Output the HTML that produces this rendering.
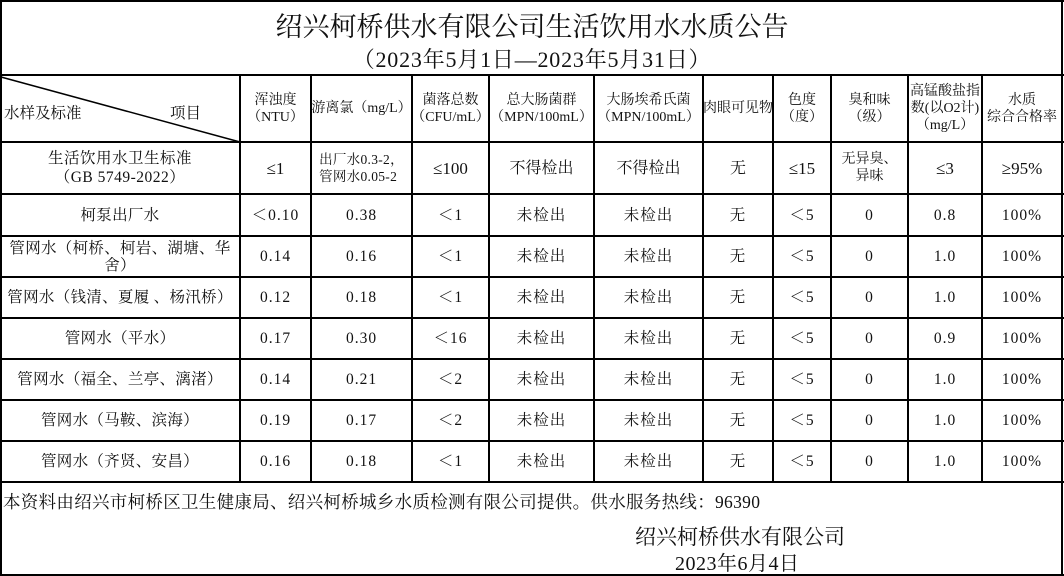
<!DOCTYPE html><html><head><meta charset="utf-8"><style>
body{margin:0;background:#fff;}
#w{position:relative;width:1064px;height:576px;overflow:hidden;font-family:"Liberation Serif","Noto Serif CJK SC",serif;color:#111;}
.h,.v{position:absolute;background:#000;}
.c{position:absolute;display:flex;align-items:center;justify-content:center;text-align:center;font-size:14px;line-height:17px;}
.t{position:absolute;white-space:nowrap;}
</style></head><body><div id="w">
<div class="t" style="left:0;width:1064px;top:5px;text-align:center;font-size:27px;">绍兴柯桥供水有限公司生活饮用水水质公告</div>
<div class="t" style="left:0;width:1064px;top:43px;text-align:center;font-size:22px;letter-spacing:0.8px;">（2023年5月1日—2023年5月31日）</div>
<div class="t" style="left:3px;top:489px;font-size:17.5px;letter-spacing:0.3px;">本资料由绍兴市柯桥区卫生健康局、绍兴柯桥城乡水质检测有限公司提供。供水服务热线：96390</div>
<div class="t" style="left:635px;top:521px;font-size:21px;">绍兴柯桥供水有限公司</div>
<div class="t" style="left:675px;top:547px;font-size:20px;letter-spacing:0.5px;">2023年6月4日</div>
<svg style="position:absolute;left:0;top:0" width="1064" height="576"><line x1="1" y1="77" x2="240" y2="142" stroke="#000" stroke-width="1.5"/></svg>
</div>
<script>
var X=[0,240,311,412,489,594,703,773,831,908,982,1062];
var Y=[75,142,194,236,277,318,359,400,441,482];
var w=document.getElementById('w');
function add(cls,st,html){var d=document.createElement('div');d.className=cls;d.style.cssText=st;if(html)d.innerHTML=html;w.appendChild(d);}
add('h','left:0;top:0;width:1064px;height:2px');
add('h','left:0;top:574px;width:1064px;height:2px');
add('v','left:0;top:0;width:2px;height:576px');
add('v','left:1061px;top:0;width:2px;height:576px');
Y.forEach(function(y){add('h','left:0;top:'+(y-1)+'px;width:1064px;height:2px');});
X.slice(1,11).forEach(function(x){add('v','left:'+(x-1)+'px;top:75px;width:2px;height:407px');});
var rows=[
['','浑浊度<br>（NTU）','游离氯（mg/L）','菌落总数<br>（CFU/mL）','总大肠菌群<br>（MPN/100mL）','大肠埃希氏菌<br>（MPN/100mL）','肉眼可见物','色度<br>（度）','臭和味<br>（级）','高锰酸盐指<br>数(以O2计)<br>（mg/L）','水质<br>综合合格率'],
['<span style="font-size:15.5px;line-height:19px;letter-spacing:0.5px">生活饮用水卫生标准<br>（GB 5749-2022）</span>','<span style="font-size:17px">≤1</span>','<span style="font-size:13.5px;text-align:left;display:block;letter-spacing:0.3px">出厂水0.3-2，<br>管网水0.05-2</span>','<span style="font-size:17px">≤100</span>','<span style="font-size:16px">不得检出</span>','<span style="font-size:16px">不得检出</span>','<span style="font-size:16px">无</span>','<span style="font-size:17px">≤15</span>','无异臭、<br>异味','<span style="font-size:17px">≤3</span>','<span style="font-size:17px">≥95%</span>'],
['柯泵出厂水','＜0.10','0.38','＜1','未检出','未检出','无','＜5','0','0.8','100%'],
['管网水（柯桥、柯岩、湖塘、华<br>舍）','0.14','0.16','＜1','未检出','未检出','无','＜5','0','1.0','100%'],
['管网水（钱清、夏履 、杨汛桥）','0.12','0.18','＜1','未检出','未检出','无','＜5','0','1.0','100%'],
['管网水（平水）','0.17','0.30','＜16','未检出','未检出','无','＜5','0','0.9','100%'],
['管网水（福全、兰亭、漓渚）','0.14','0.21','＜2','未检出','未检出','无','＜5','0','1.0','100%'],
['管网水（马鞍、滨海）','0.19','0.17','＜2','未检出','未检出','无','＜5','0','1.0','100%'],
['管网水（齐贤、安昌）','0.16','0.18','＜1','未检出','未检出','无','＜5','0','1.0','100%']];
rows.forEach(function(r,i){r.forEach(function(t,j){
 if(!t)return;
 var fs=(i>=2)?'font-size:15.5px;letter-spacing:'+(j>0?'1px':'0.3px')+';':'';
 add('c','left:'+X[j]+'px;top:'+Y[i]+'px;width:'+(X[j+1]-X[j])+'px;height:'+(Y[i+1]-Y[i])+'px;'+fs,t);
});});
add('t','left:4px;top:101px;font-size:15.5px','水样及标准');
add('t','left:170px;top:101px;font-size:15.5px','项目');
</script>
</body></html>
